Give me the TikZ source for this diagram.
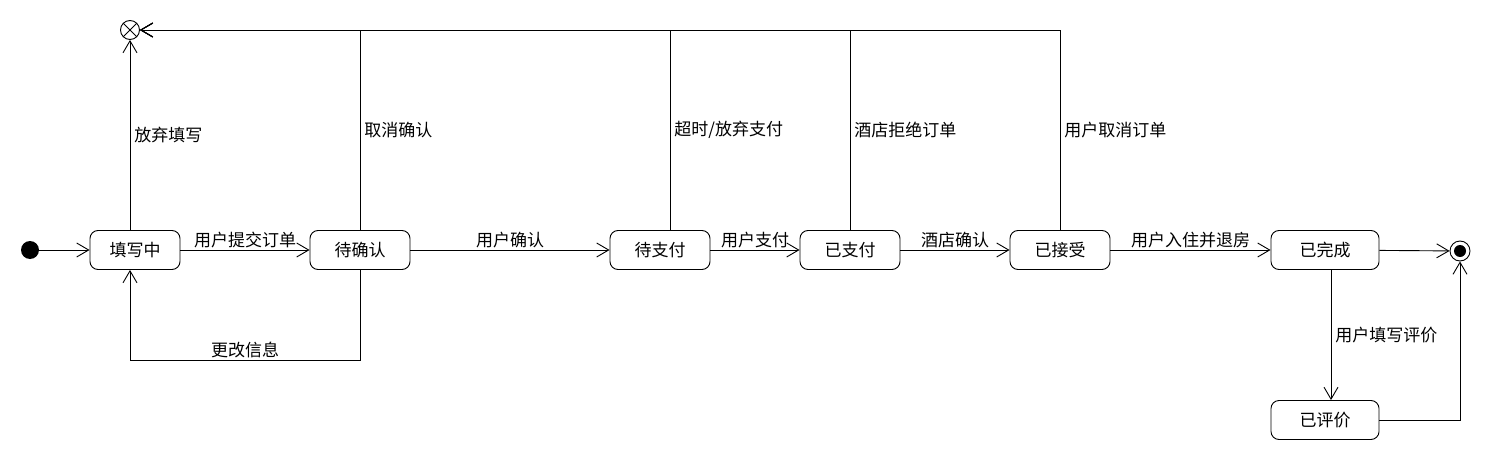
\documentclass[tikz,border=0pt]{standalone}
\usepackage{fontspec}
\setmainfont{Noto Sans CJK SC}
\usetikzlibrary{arrows.meta}

\begin{document}
\begin{tikzpicture}[x = 1pt, y = -1pt, line width = 0.9pt,
>={Straight Barb[length = 12pt, width = 14pt, line width = 0.9pt]},
st/.style = {draw, rounded corners = 8pt, minimum width = 100pt, minimum height = 39pt, inner sep = 0pt, font = \fontsize{17}{19}\selectfont},
lbl/.style = {above, inner sep = 2pt, font = \fontsize{17}{19}\selectfont},
vlbl/.style = {right, inner sep = 4pt, font = \fontsize{17}{19}\selectfont}
]
\useasboundingbox (0,0) rectangle (1500,460);
\node[circle, fill, minimum size = 18pt, inner sep = 0pt] (S) at (30,250) {};
\node[st, minimum width = 90pt] (A) at (135,250) {填写中};
\node[st] (B) at (360,250) {待确认};
\node[st] (C) at (660,250) {待支付};
\node[st] (D) at (850,250) {已支付};
\node[st] (E) at (1060,250) {已接受};
\node[st, minimum width = 108pt] (F) at (1325,250) {已完成};
\node[st, minimum width = 108pt] (G) at (1325,420) {已评价};
\node[draw, circle, minimum size = 20pt, inner sep = 0pt] (Z) at (1460,251) {};
\fill (Z) circle (6pt);
\node[draw, circle, minimum size = 19pt, inner sep = 0pt] (X) at (130,30) {};
\draw (X.45) -- (X.225) (X.135) -- (X.315);
\coordinate (bot) at (0,360);
\draw[->] (S) -- (A);
\foreach \i/\j/\k in {A/B/用户提交订单, B/C/用户确认, C/D/用户支付, D/E/酒店确认, E/F/用户入住并退房}{\draw[->] (\i) -- node[lbl]{\k} (\j);}
\draw[->] (F) -- (Z);
\draw[->] (A.north -| X) -- node[vlbl]{放弃填写} (X);
\foreach \i/\k in {B/取消确认, D/酒店拒绝订单, E/用户取消订单}{\draw[->] (\i.north) |- node[vlbl, pos = 0.25]{\k} (X.east);}
\draw[->] ([xshift = 10pt]C.north) |- node[vlbl, pos = 0.25]{超时/放弃支付} (X.east);
\draw[->] (B.south) -- (B.south |- bot) -- node[lbl]{更改信息} (X |- bot) -- (X |- A.south);
\draw[->] ([xshift = 6pt]F.south) -- node[vlbl]{用户填写评价} ([xshift = 6pt]G.north);
\draw[->] (G.east) -| (Z.south);
\end{tikzpicture}
\end{document}
